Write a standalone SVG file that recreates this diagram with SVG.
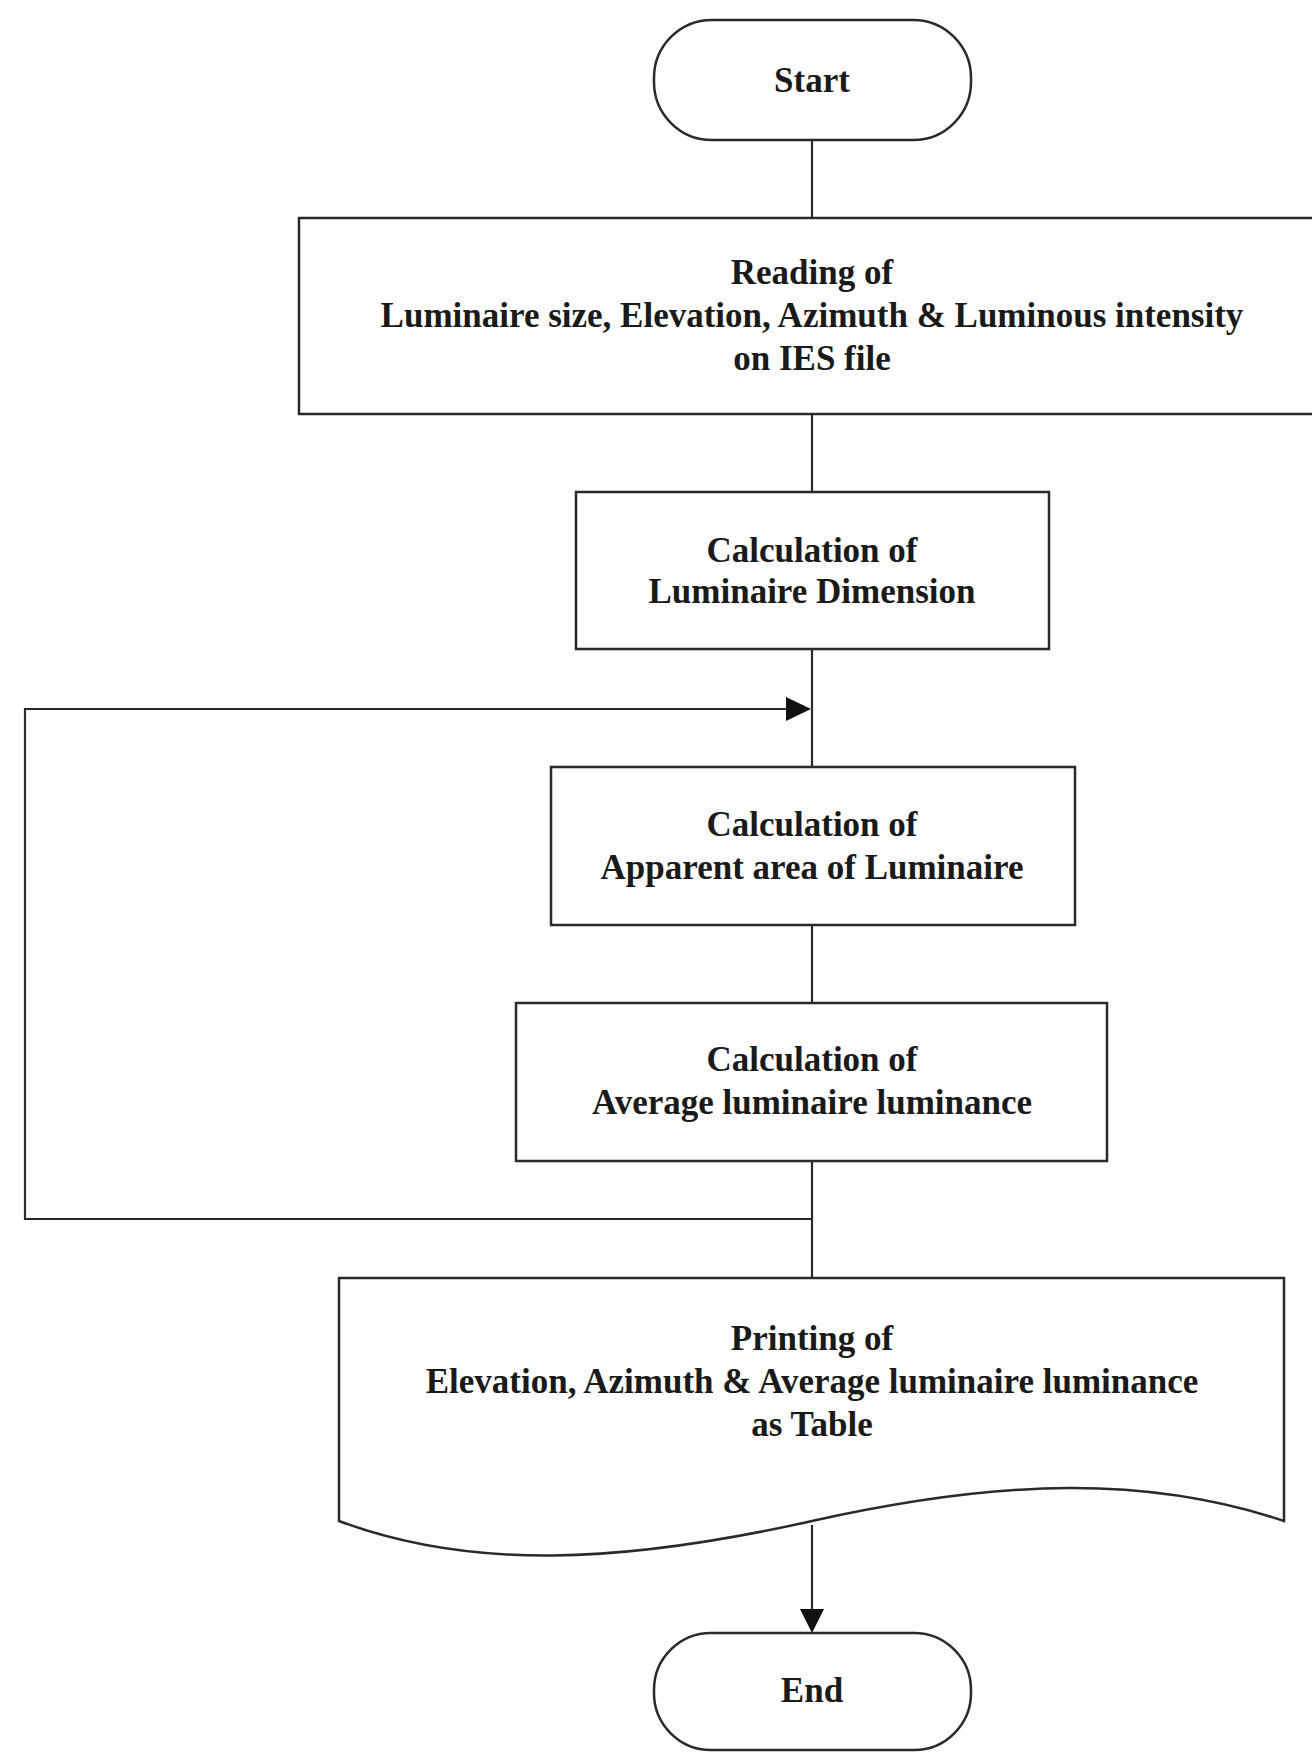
<svg xmlns="http://www.w3.org/2000/svg" width="1312" height="1754" viewBox="0 0 1312 1754">
<style>
.shape{fill:#fff;stroke:#2a2a2a;stroke-width:2.5}
.conn{fill:none;stroke:#2a2a2a;stroke-width:2.2}
.lbl{font-family:"Liberation Serif","Times New Roman",serif;font-weight:bold;font-size:35px;fill:#1a1a1a;text-anchor:middle}
</style>
<defs>
<marker id="arr" viewBox="0 0 10 10" refX="10" refY="5" markerWidth="10" markerHeight="10" markerUnits="userSpaceOnUse" orient="auto">
<path d="M0,0 L10,5 L0,10 Z" fill="#111"/>
</marker>
</defs>
<rect width="1312" height="1754" fill="#fff"/>
<g id="connectors">
<line class="conn" x1="812" y1="140" x2="812" y2="218"/>
<line class="conn" x1="812" y1="414" x2="812" y2="492"/>
<line class="conn" x1="812" y1="649" x2="812" y2="767"/>
<line class="conn" x1="812" y1="925" x2="812" y2="1003"/>
<line class="conn" x1="812" y1="1161" x2="812" y2="1278"/>
<polyline class="conn" points="812,1219 25,1219 25,709 786,709"/>
<path d="M786,697 L811,709 L786,721 Z" fill="#111"/>
<line class="conn" x1="812" y1="1525" x2="812" y2="1612"/>
<path d="M800,1609 L812,1633 L824,1609 Z" fill="#111"/>
</g>
<g id="start">
<rect class="shape" x="654" y="20" width="317" height="120" rx="58" ry="58"/>
<text class="lbl" x="812" y="92">Start</text>
</g>
<g id="reading">
<rect class="shape" x="299" y="218" width="1020" height="196"/>
<text class="lbl" x="812" y="284">Reading of</text>
<text class="lbl" x="812" y="327">Luminaire size, Elevation, Azimuth &amp; Luminous intensity</text>
<text class="lbl" x="812" y="370">on IES file</text>
</g>
<g id="dimension">
<rect class="shape" x="576" y="492" width="473" height="157"/>
<text class="lbl" x="812" y="562">Calculation of</text>
<text class="lbl" x="812" y="603">Luminaire Dimension</text>
</g>
<g id="apparent">
<rect class="shape" x="551" y="767" width="524" height="158"/>
<text class="lbl" x="812" y="836">Calculation of</text>
<text class="lbl" x="812" y="879">Apparent area of Luminaire</text>
</g>
<g id="average">
<rect class="shape" x="516" y="1003" width="591" height="158"/>
<text class="lbl" x="812" y="1071">Calculation of</text>
<text class="lbl" x="812" y="1114">Average luminaire luminance</text>
</g>
<g id="printing">
<path class="shape" d="M339,1278 H1284 V1521 C1150,1476 1004,1478 812,1521 C620,1564 470,1570 339,1521 Z"/>
<text class="lbl" x="812" y="1350">Printing of</text>
<text class="lbl" x="812" y="1393">Elevation, Azimuth &amp; Average luminaire luminance</text>
<text class="lbl" x="812" y="1436">as Table</text>
</g>
<g id="end">
<rect class="shape" x="654" y="1633" width="317" height="117" rx="57" ry="57"/>
<text class="lbl" x="812" y="1702">End</text>
</g>
</svg>
